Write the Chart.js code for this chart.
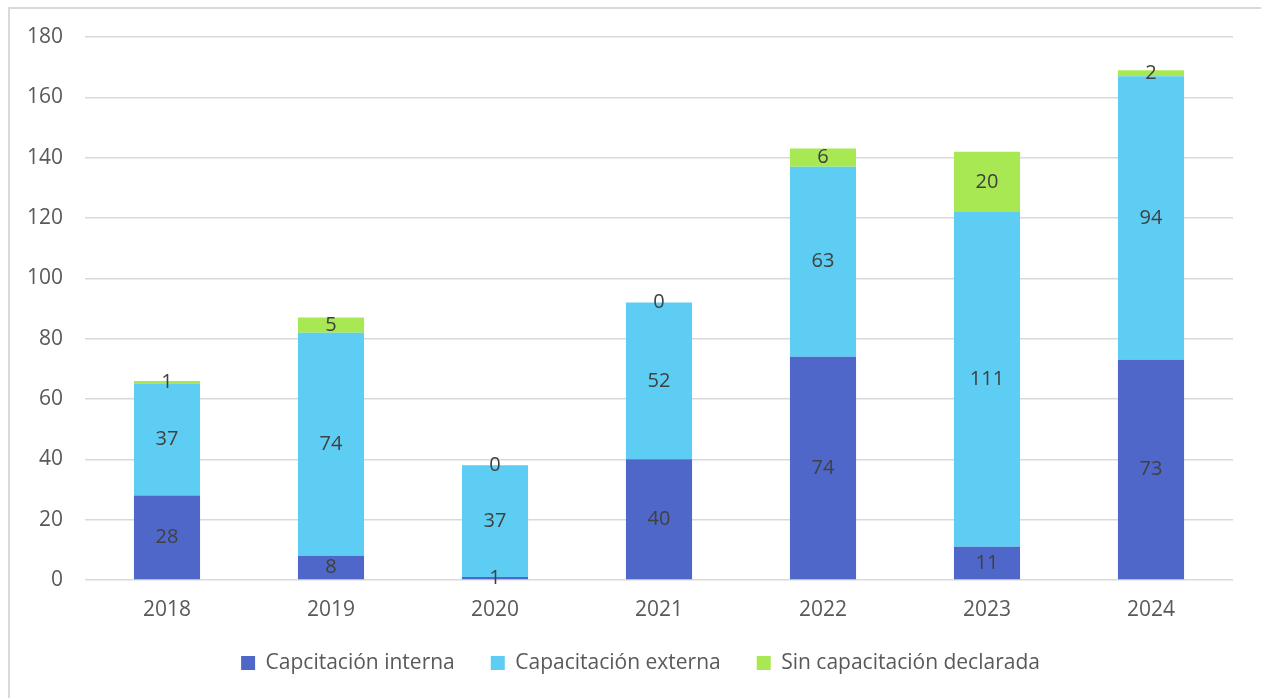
<!DOCTYPE html>
<html>
<head>
<meta charset="utf-8">
<script src="https://cdn.jsdelivr.net/npm/chart.js@4/dist/chart.umd.min.js"></script>
<style>
  html, body { margin: 0; padding: 0; background: #ffffff; overflow: hidden; }
  #frame { position: absolute; left: 8px; top: 7px; width: 1300px; height: 750px;
           border-left: 2px solid #d9d9d9; border-top: 2px solid #d9d9d9; }
  #wrap { position: absolute; left: 0; top: 0; width: 1261px; height: 698px; }
</style>
</head>
<body>
<div id="frame"></div>
<div id="wrap"><canvas id="chart"></canvas></div>
<script>
// Participantes por año según tipo de capacitación
const years = ['2018', '2019', '2020', '2021', '2022', '2023', '2024'];
const interna = [28, 8, 1, 40, 74, 11, 73];
const externa = [37, 74, 37, 52, 63, 111, 94];
const sinDeclarar = [1, 5, 0, 0, 6, 20, 2];
const yTicks = [0, 20, 40, 60, 80, 100, 120, 140, 160, 180];

const FONT = 'Open Sans';

// Writes each segment's value at the middle of its bar piece
const segmentLabels = {
  id: 'segmentLabels',
  afterDatasetsDraw(chart) {
    const ctx = chart.ctx;
    ctx.save();
    ctx.font = '20px "' + FONT + '"';
    ctx.fillStyle = '#404040';
    ctx.textAlign = 'center';
    ctx.textBaseline = 'middle';
    chart.data.datasets.forEach((ds, i) => {
      const meta = chart.getDatasetMeta(i);
      meta.data.forEach((bar, j) => {
        const cy = (bar.y + bar.base) / 2;
        ctx.fillText(String(ds.data[j]), bar.x, cy);
      });
    });
    ctx.restore();
  }
};

// Centres the legend row on the whole frame rather than on the plot box
const legendShift = {
  id: 'legendShift',
  afterLayout(chart) {
    if (chart.legend) { chart.legend.left += 48; }
  }
};

new Chart(document.getElementById('chart'), {
  type: 'bar',
  data: {
    labels: years,
    datasets: [
      { label: 'Capcitación interna', data: interna, backgroundColor: '#4f67c8' },
      { label: 'Capacitación externa', data: externa, backgroundColor: '#5ecdf3' },
      { label: 'Sin capacitación declarada', data: sinDeclarar, backgroundColor: '#a7e853' }
    ]
  },
  options: {
    responsive: true,
    maintainAspectRatio: false,
    animation: false,
    layout: { padding: { left: 0, top: 37, right: 28, bottom: 14.5 } },
    datasets: { bar: { categoryPercentage: 1, barPercentage: 0.403, borderWidth: 0 } },
    scales: {
      x: {
        stacked: true,
        grid: { display: false, drawTicks: false },
        border: { display: false },
        ticks: { color: '#595959', font: { family: FONT, size: 21 }, padding: 17 },
        afterFit(scale) { scale.height = 36.5; }
      },
      y: {
        stacked: true,
        min: 0,
        max: 180,
        afterBuildTicks(scale) { scale.ticks = yTicks.map(v => ({ value: v })); },
        grid: { color: '#d9d9d9', lineWidth: 1.5, drawTicks: false },
        border: { display: false },
        ticks: { color: '#595959', font: { family: FONT, size: 21 }, padding: 22 },
        afterFit(scale) { scale.width = 85; }
      }
    },
    plugins: {
      legend: {
        position: 'bottom',
        labels: {
          color: '#595959',
          font: { family: FONT, size: 21 },
          boxWidth: 14,
          boxHeight: 14,
          padding: 36
        }
      },
      tooltip: { enabled: false }
    }
  },
  plugins: [segmentLabels, legendShift]
});
</script>
</body>
</html>
